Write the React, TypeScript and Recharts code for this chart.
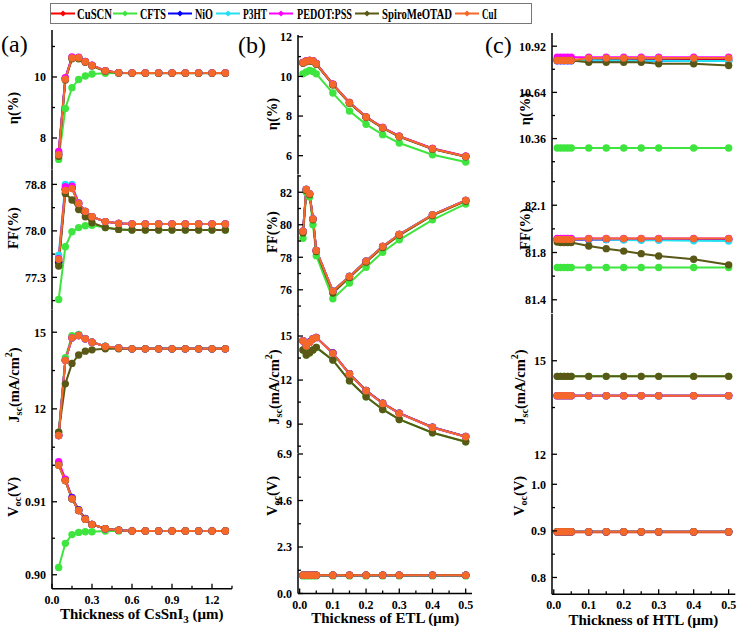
import React from 'react';
import { LineChart, Line, XAxis, YAxis } from 'recharts';

const FONT = '"Liberation Serif", "Times New Roman", serif';

// ---------- x values ----------
const xA = [0.05, 0.1, 0.15, 0.2, 0.25, 0.3, 0.4, 0.5, 0.6, 0.7, 0.8, 0.9, 1.0, 1.1, 1.2, 1.3];
const xB = [0.01, 0.02, 0.03, 0.04, 0.05, 0.1, 0.15, 0.2, 0.25, 0.3, 0.4, 0.5];
const xC = [0.01, 0.02, 0.03, 0.04, 0.05, 0.1, 0.15, 0.2, 0.25, 0.3, 0.4, 0.5];

// ---------- (a) thickness of CsSnI3 ----------
const etaA_CuSCN = [7.48, 9.95, 10.63, 10.63, 10.5, 10.38, 10.2, 10.14, 10.13, 10.13, 10.13, 10.13, 10.13, 10.13, 10.13, 10.13];
const etaA_CFTS = [7.3, 8.97, 9.65, 9.92, 10.03, 10.1, 10.12, 10.13, 10.13, 10.13, 10.13, 10.13, 10.13, 10.13, 10.13, 10.13];
const etaA_NiO = [7.47, 9.94, 10.62, 10.63, 10.5, 10.38, 10.2, 10.14, 10.13, 10.13, 10.13, 10.13, 10.13, 10.13, 10.13, 10.13];
const etaA_P3HT = [7.5, 9.96, 10.64, 10.64, 10.51, 10.38, 10.2, 10.14, 10.13, 10.13, 10.13, 10.13, 10.13, 10.13, 10.13, 10.13];
const etaA_PEDOT = [7.56, 9.98, 10.66, 10.65, 10.51, 10.39, 10.21, 10.14, 10.13, 10.13, 10.13, 10.13, 10.13, 10.13, 10.13, 10.13];
const etaA_Spiro = [7.4, 9.9, 10.6, 10.6, 10.48, 10.36, 10.19, 10.13, 10.12, 10.12, 10.12, 10.12, 10.12, 10.12, 10.12, 10.12];
const etaA_CuI = [7.45, 9.93, 10.62, 10.63, 10.5, 10.38, 10.2, 10.14, 10.13, 10.13, 10.13, 10.13, 10.13, 10.13, 10.13, 10.13];

const ffA_CuSCN = [77.52, 78.72, 78.74, 78.48, 78.35, 78.26, 78.18, 78.15, 78.14, 78.14, 78.14, 78.14, 78.14, 78.14, 78.14, 78.14];
const ffA_CFTS = [76.88, 77.76, 78.01, 78.08, 78.11, 78.12, 78.08, 78.05, 78.04, 78.04, 78.04, 78.04, 78.04, 78.04, 78.04, 78.04];
const ffA_NiO = [77.5, 78.72, 78.74, 78.48, 78.35, 78.26, 78.18, 78.15, 78.14, 78.14, 78.14, 78.14, 78.14, 78.14, 78.14, 78.14];
const ffA_P3HT = [77.62, 78.8, 78.8, 78.49, 78.35, 78.26, 78.18, 78.15, 78.14, 78.14, 78.14, 78.14, 78.14, 78.14, 78.14, 78.14];
const ffA_PEDOT = [77.56, 78.76, 78.77, 78.49, 78.35, 78.26, 78.18, 78.15, 78.14, 78.14, 78.14, 78.14, 78.14, 78.14, 78.14, 78.14];
const ffA_Spiro = [77.44, 78.65, 78.54, 78.38, 78.26, 78.16, 78.08, 78.05, 78.04, 78.04, 78.04, 78.04, 78.04, 78.04, 78.04, 78.04];
const ffA_CuI = [77.55, 78.7, 78.73, 78.48, 78.35, 78.26, 78.18, 78.15, 78.14, 78.14, 78.14, 78.14, 78.14, 78.14, 78.14, 78.14];

const jscA_CuSCN = [10.96, 13.9, 14.78, 14.87, 14.74, 14.61, 14.44, 14.38, 14.35, 14.35, 14.35, 14.35, 14.35, 14.35, 14.35, 14.35];
const jscA_CFTS = [11.09, 14.0, 14.86, 14.91, 14.76, 14.62, 14.45, 14.38, 14.35, 14.35, 14.35, 14.35, 14.35, 14.35, 14.35, 14.35];
const jscA_NiO = [10.96, 13.9, 14.78, 14.87, 14.74, 14.61, 14.44, 14.38, 14.35, 14.35, 14.35, 14.35, 14.35, 14.35, 14.35, 14.35];
const jscA_P3HT = [10.96, 13.9, 14.78, 14.87, 14.74, 14.61, 14.44, 14.38, 14.35, 14.35, 14.35, 14.35, 14.35, 14.35, 14.35, 14.35];
const jscA_PEDOT = [10.96, 13.9, 14.78, 14.87, 14.74, 14.61, 14.44, 14.38, 14.35, 14.35, 14.35, 14.35, 14.35, 14.35, 14.35, 14.35];
const jscA_Spiro = [11.09, 12.98, 13.78, 14.11, 14.26, 14.31, 14.35, 14.35, 14.35, 14.35, 14.35, 14.35, 14.35, 14.35, 14.35, 14.35];
const jscA_CuI = [10.96, 13.9, 14.78, 14.87, 14.74, 14.61, 14.44, 14.38, 14.35, 14.35, 14.35, 14.35, 14.35, 14.35, 14.35, 14.35];

const vocA_CuSCN = [0.9151, 0.9129, 0.9104, 0.9088, 0.9076, 0.9069, 0.9063, 0.9061, 0.906, 0.906, 0.906, 0.906, 0.906, 0.906, 0.906, 0.906];
const vocA_CFTS = [0.901, 0.9043, 0.9055, 0.9058, 0.9059, 0.9059, 0.906, 0.906, 0.906, 0.906, 0.906, 0.906, 0.906, 0.906, 0.906, 0.906];
const vocA_NiO = [0.9152, 0.913, 0.9106, 0.9089, 0.9077, 0.9069, 0.9063, 0.9061, 0.906, 0.906, 0.906, 0.906, 0.906, 0.906, 0.906, 0.906];
const vocA_P3HT = [0.9151, 0.9129, 0.9104, 0.9088, 0.9076, 0.9069, 0.9063, 0.9061, 0.906, 0.906, 0.906, 0.906, 0.906, 0.906, 0.906, 0.906];
const vocA_PEDOT = [0.9155, 0.9131, 0.9105, 0.9088, 0.9076, 0.9069, 0.9063, 0.9061, 0.906, 0.906, 0.906, 0.906, 0.906, 0.906, 0.906, 0.906];
const vocA_Spiro = [0.915, 0.9129, 0.9104, 0.9088, 0.9076, 0.9069, 0.9063, 0.9061, 0.906, 0.906, 0.906, 0.906, 0.906, 0.906, 0.906, 0.906];
const vocA_CuI = [0.915, 0.9129, 0.9104, 0.9088, 0.9076, 0.9069, 0.9063, 0.9061, 0.906, 0.906, 0.906, 0.906, 0.906, 0.906, 0.906, 0.906];

// ---------- (b) thickness of ETL ----------
const etaB_CuSCN = [10.7, 10.78, 10.81, 10.79, 10.65, 9.61, 8.68, 7.96, 7.42, 6.98, 6.36, 5.97];
const etaB_CFTS = [10.13, 10.22, 10.3, 10.25, 10.13, 9.16, 8.25, 7.58, 7.06, 6.64, 6.05, 5.68];
const etaB_NiO = [10.69, 10.77, 10.8, 10.78, 10.64, 9.6, 8.67, 7.95, 7.41, 6.97, 6.35, 5.96];
const etaB_P3HT = [10.69, 10.77, 10.8, 10.78, 10.64, 9.6, 8.67, 7.95, 7.41, 6.97, 6.35, 5.96];
const etaB_PEDOT = [10.7, 10.78, 10.81, 10.79, 10.65, 9.61, 8.68, 7.96, 7.42, 6.98, 6.36, 5.97];
const etaB_Spiro = [10.66, 10.74, 10.77, 10.75, 10.61, 9.57, 8.65, 7.93, 7.39, 6.95, 6.33, 5.94];
const etaB_CuI = [10.69, 10.77, 10.8, 10.78, 10.64, 9.6, 8.67, 7.95, 7.41, 6.97, 6.35, 5.96];

const ffB_CuSCN = [79.6, 82.17, 81.9, 80.36, 78.42, 75.92, 76.82, 77.76, 78.66, 79.4, 80.61, 81.49];
const ffB_CFTS = [79.17, 82.0, 81.7, 80.0, 78.1, 75.45, 76.41, 77.39, 78.31, 79.07, 80.3, 81.28];
const ffB_NiO = [79.6, 82.17, 81.9, 80.36, 78.42, 75.92, 76.82, 77.76, 78.66, 79.4, 80.61, 81.49];
const ffB_P3HT = [79.62, 82.18, 81.91, 80.37, 78.43, 75.93, 76.83, 77.77, 78.67, 79.41, 80.62, 81.5];
const ffB_PEDOT = [79.6, 82.17, 81.9, 80.36, 78.42, 75.92, 76.82, 77.76, 78.66, 79.4, 80.61, 81.49];
const ffB_Spiro = [79.5, 82.1, 81.85, 80.3, 78.35, 75.8, 76.75, 77.7, 78.6, 79.35, 80.57, 81.45];
const ffB_CuI = [79.6, 82.17, 81.9, 80.36, 78.42, 75.92, 76.82, 77.76, 78.66, 79.4, 80.61, 81.49];

const jscB_CuSCN = [14.68, 14.34, 14.59, 14.82, 14.91, 13.84, 12.43, 11.29, 10.43, 9.75, 8.79, 8.16];
const jscB_CFTS = [14.05, 13.7, 13.86, 14.05, 14.23, 13.36, 11.95, 10.86, 10.0, 9.32, 8.41, 7.8];
const jscB_NiO = [14.68, 14.34, 14.59, 14.82, 14.91, 13.84, 12.43, 11.29, 10.43, 9.75, 8.79, 8.16];
const jscB_P3HT = [14.66, 14.32, 14.57, 14.8, 14.89, 13.82, 12.41, 11.27, 10.41, 9.73, 8.77, 8.14];
const jscB_PEDOT = [14.66, 14.32, 14.57, 14.8, 14.89, 13.82, 12.41, 11.27, 10.41, 9.73, 8.77, 8.14];
const jscB_Spiro = [14.05, 13.7, 13.86, 14.05, 14.23, 13.36, 11.95, 10.86, 10.0, 9.32, 8.41, 7.8];
const jscB_CuI = [14.66, 14.32, 14.57, 14.8, 14.89, 13.82, 12.41, 11.27, 10.41, 9.73, 8.77, 8.14];

const vocB_CuSCN = [0.9, 0.9, 0.9, 0.9, 0.9, 0.9, 0.9, 0.9, 0.9, 0.9, 0.9, 0.9];
const vocB_CFTS = [0.87, 0.87, 0.87, 0.87, 0.87, 0.87, 0.87, 0.87, 0.87, 0.87, 0.87, 0.87];
const vocB_NiO = [0.9, 0.9, 0.9, 0.9, 0.9, 0.9, 0.9, 0.9, 0.9, 0.9, 0.9, 0.9];
const vocB_P3HT = [0.9, 0.9, 0.9, 0.9, 0.9, 0.9, 0.9, 0.9, 0.9, 0.9, 0.9, 0.9];
const vocB_PEDOT = [0.9, 0.9, 0.9, 0.9, 0.9, 0.9, 0.9, 0.9, 0.9, 0.9, 0.9, 0.9];
const vocB_Spiro = [0.9, 0.9, 0.9, 0.9, 0.9, 0.9, 0.9, 0.9, 0.9, 0.9, 0.9, 0.9];
const vocB_CuI = [0.9, 0.9, 0.9, 0.9, 0.9, 0.9, 0.9, 0.9, 0.9, 0.9, 0.9, 0.9];

// ---------- (c) thickness of HTL ----------
const etaC_CuSCN = [10.838, 10.838, 10.838, 10.838, 10.838, 10.838, 10.838, 10.838, 10.838, 10.838, 10.838, 10.838];
const etaC_CFTS = [10.303, 10.303, 10.303, 10.303, 10.303, 10.303, 10.303, 10.303, 10.303, 10.303, 10.303, 10.303];
const etaC_NiO = [10.832, 10.832, 10.832, 10.832, 10.832, 10.832, 10.832, 10.832, 10.832, 10.832, 10.832, 10.832];
const etaC_P3HT = [10.836, 10.836, 10.836, 10.836, 10.836, 10.835, 10.834, 10.833, 10.832, 10.832, 10.831, 10.83];
const etaC_PEDOT = [10.853, 10.853, 10.853, 10.853, 10.853, 10.853, 10.853, 10.853, 10.853, 10.853, 10.853, 10.853];
const etaC_Spiro = [10.834, 10.834, 10.834, 10.834, 10.834, 10.823, 10.823, 10.823, 10.823, 10.814, 10.814, 10.803];
const etaC_CuI = [10.834, 10.834, 10.834, 10.834, 10.834, 10.848, 10.848, 10.848, 10.848, 10.848, 10.848, 10.848];

const ffC_CuSCN = [81.862, 81.862, 81.862, 81.862, 81.862, 81.862, 81.862, 81.862, 81.862, 81.862, 81.862, 81.862];
const ffC_CFTS = [81.665, 81.665, 81.665, 81.665, 81.665, 81.665, 81.665, 81.665, 81.665, 81.665, 81.665, 81.665];
const ffC_NiO = [81.86, 81.86, 81.86, 81.86, 81.86, 81.86, 81.86, 81.86, 81.86, 81.86, 81.86, 81.86];
const ffC_P3HT = [81.866, 81.866, 81.866, 81.866, 81.866, 81.862, 81.86, 81.858, 81.856, 81.855, 81.852, 81.85];
const ffC_PEDOT = [81.868, 81.868, 81.868, 81.868, 81.868, 81.868, 81.868, 81.868, 81.868, 81.868, 81.868, 81.868];
const ffC_Spiro = [81.843, 81.84, 81.84, 81.84, 81.84, 81.815, 81.797, 81.78, 81.762, 81.746, 81.723, 81.684];
const ffC_CuI = [81.862, 81.862, 81.862, 81.862, 81.862, 81.867, 81.867, 81.867, 81.867, 81.867, 81.867, 81.867];

const jscC_CuSCN = [13.88, 13.88, 13.88, 13.88, 13.88, 13.88, 13.88, 13.88, 13.88, 13.88, 13.88, 13.88];
const jscC_CFTS = [14.5, 14.5, 14.5, 14.5, 14.5, 14.5, 14.5, 14.5, 14.5, 14.5, 14.5, 14.5];
const jscC_NiO = [13.88, 13.88, 13.88, 13.88, 13.88, 13.88, 13.88, 13.88, 13.88, 13.88, 13.88, 13.88];
const jscC_P3HT = [13.88, 13.88, 13.88, 13.88, 13.88, 13.88, 13.88, 13.88, 13.88, 13.88, 13.88, 13.88];
const jscC_PEDOT = [13.88, 13.88, 13.88, 13.88, 13.88, 13.88, 13.88, 13.88, 13.88, 13.88, 13.88, 13.88];
const jscC_Spiro = [14.5, 14.5, 14.5, 14.5, 14.5, 14.5, 14.5, 14.5, 14.5, 14.5, 14.5, 14.5];
const jscC_CuI = [13.88, 13.88, 13.88, 13.88, 13.88, 13.88, 13.88, 13.88, 13.88, 13.88, 13.88, 13.88];

const vocC_CuSCN = [0.897, 0.897, 0.897, 0.897, 0.897, 0.897, 0.897, 0.897, 0.897, 0.897, 0.897, 0.897];
const vocC_CFTS = [0.898, 0.898, 0.898, 0.898, 0.898, 0.898, 0.898, 0.898, 0.898, 0.898, 0.898, 0.898];
const vocC_NiO = [0.898, 0.898, 0.898, 0.898, 0.898, 0.898, 0.898, 0.898, 0.898, 0.898, 0.898, 0.898];
const vocC_P3HT = [0.898, 0.898, 0.898, 0.898, 0.898, 0.898, 0.898, 0.898, 0.898, 0.898, 0.898, 0.898];
const vocC_PEDOT = [0.898, 0.898, 0.898, 0.898, 0.898, 0.898, 0.898, 0.898, 0.898, 0.898, 0.898, 0.898];
const vocC_Spiro = [0.898, 0.898, 0.898, 0.898, 0.898, 0.898, 0.898, 0.898, 0.898, 0.898, 0.898, 0.898];
const vocC_CuI = [0.898, 0.898, 0.898, 0.898, 0.898, 0.898, 0.898, 0.898, 0.898, 0.898, 0.898, 0.898];

// ---------- tick labels ----------
const xTicksA = [0, 0.3, 0.6, 0.9, 1.2];
const xMinorA = [0.15, 0.45, 0.75, 1.05, 1.35];
const xTicksBC = [0, 0.1, 0.2, 0.3, 0.4, 0.5];
const xMinorBC = [0.05, 0.15, 0.25, 0.35, 0.45];

const SERIES = [
  { key: 'CuSCN', name: 'CuSCN', color: '#FF0000' },
  { key: 'CFTS', name: 'CFTS', color: '#3EE53E' },
  { key: 'NiO', name: 'NiO', color: '#0000FF' },
  { key: 'P3HT', name: 'P3HT', color: '#22E0F0' },
  { key: 'PEDOT', name: 'PEDOT:PSS', color: '#FF00FF' },
  { key: 'Spiro', name: 'SpiroMeOTAD', color: '#5A5816' },
  { key: 'CuI', name: 'CuI', color: '#F4682A' },
];

function rows(xs: number[], cols: number[][]) {
  return xs.map((x, i) => {
    const r: any = { x };
    SERIES.forEach((s, k) => { r[s.key] = cols[k][i]; });
    return r;
  });
}

const f1 = (v: number) => v.toFixed(1);
const f0 = (v: number) => v.toFixed(0);
const f2 = (v: number) => v.toFixed(2);

const COLS = [
  { left: 51.7, w: 180, top: 30, h: 139.75, xDomain: [0, 1.35], xMajor: xTicksA, xMinor: xMinorA },
  { left: 298.3, w: 174, top: 35, h: 139.5, xDomain: [-0.005, 0.519], xMajor: xTicksBC, xMinor: xMinorBC },
  { left: 551.7, w: 183.3, top: 33, h: 140.25, xDomain: [-0.005, 0.519], xMajor: xTicksBC, xMinor: xMinorBC },
];

const PANELS: any[] = [
  // column a
  { col: 0, row: 0, data: rows(xA, [etaA_CuSCN, etaA_CFTS, etaA_NiO, etaA_P3HT, etaA_PEDOT, etaA_Spiro, etaA_CuI]), yDomain: [6.96, 11.54], yMajor: [8, 10], yMinor: [9, 11], fmt: f0 },
  { col: 0, row: 1, data: rows(xA, [ffA_CuSCN, ffA_CFTS, ffA_NiO, ffA_P3HT, ffA_PEDOT, ffA_Spiro, ffA_CuI]), yDomain: [76.71, 79.04], yMajor: [77.25, 78.025, 78.8], yMinor: [76.8625, 77.6375, 78.4125], fmt: f1 },
  { col: 0, row: 2, data: rows(xA, [jscA_CuSCN, jscA_CFTS, jscA_NiO, jscA_P3HT, jscA_PEDOT, jscA_Spiro, jscA_CuI]), yDomain: [10.4, 15.87], yMajor: [12, 15], yMinor: [10.5, 13.5], fmt: f0 },
  { col: 0, row: 3, data: rows(xA, [vocA_CuSCN, vocA_CFTS, vocA_NiO, vocA_P3HT, vocA_PEDOT, vocA_Spiro, vocA_CuI]), yDomain: [0.89808, 0.91723], yMajor: [0.9, 0.91], yMinor: [0.905, 0.915], fmt: f2 },
  // column b
  { col: 1, row: 0, data: rows(xB, [etaB_CuSCN, etaB_CFTS, etaB_NiO, etaB_P3HT, etaB_PEDOT, etaB_Spiro, etaB_CuI]), yDomain: [5.05, 12.09], yMajor: [6, 8, 10, 12], yMinor: [7, 9, 11], fmt: f0 },
  { col: 1, row: 1, data: rows(xB, [ffB_CuSCN, ffB_CFTS, ffB_NiO, ffB_P3HT, ffB_PEDOT, ffB_Spiro, ffB_CuI]), yDomain: [74.48, 83.06], yMajor: [76, 78, 80, 82], yMinor: [75, 77, 79, 81, 83], fmt: f0 },
  { col: 1, row: 2, data: rows(xB, [jscB_CuSCN, jscB_CFTS, jscB_NiO, jscB_P3HT, jscB_PEDOT, jscB_Spiro, jscB_CuI]), yDomain: [7, 16.5], yMajor: [9, 12, 15], yMinor: [7.5, 10.5, 13.5], fmt: f0 },
  { col: 1, row: 3, data: rows(xB, [vocB_CuSCN, vocB_CFTS, vocB_NiO, vocB_P3HT, vocB_PEDOT, vocB_Spiro, vocB_CuI]), yDomain: [0, 6.9], yMajor: [0, 2.3, 4.6, 6.9], yMinor: [1.15, 3.45, 5.75], fmt: f1 },
  // column c
  { col: 2, row: 0, data: rows(xC, [etaC_CuSCN, etaC_CFTS, etaC_NiO, etaC_P3HT, etaC_PEDOT, etaC_Spiro, etaC_CuI]), yDomain: [10.15, 11.0], yMajor: [10.36, 10.64, 10.92], yMinor: [10.22, 10.5, 10.78], fmt: f2 },
  { col: 2, row: 1, data: rows(xC, [ffC_CuSCN, ffC_CFTS, ffC_NiO, ffC_P3HT, ffC_PEDOT, ffC_Spiro, ffC_CuI]), yDomain: [81.346, 82.325], yMajor: [81.44, 81.77, 82.1], yMinor: [81.605, 81.935, 82.265], fmt: f1 },
  { col: 2, row: 2, data: rows(xC, [jscC_CuSCN, jscC_CFTS, jscC_NiO, jscC_P3HT, jscC_PEDOT, jscC_Spiro, jscC_CuI]), yDomain: [12, 16.5], yMajor: [12, 15], yMinor: [13.5], fmt: f0 },
  { col: 2, row: 3, data: rows(xC, [vocC_CuSCN, vocC_CFTS, vocC_NiO, vocC_P3HT, vocC_PEDOT, vocC_Spiro, vocC_CuI]), yDomain: [0.764, 1.065], yMajor: [0.8, 0.9, 1.0], yMinor: [0.85, 0.95], fmt: f1 },
];

const tickText: any = { fontFamily: FONT, fontWeight: 700, fontSize: 12, fill: '#000' };
const isIn = (arr: number[], v: number) => arr.some((m) => Math.abs(m - v) < 1e-9);

function Panel({ p }: { p: any }) {
  const c = COLS[p.col];
  const YW = 60, MT = 10, MR = 3, MB = 10;
  const showX = p.row === 3;
  const XH = showX ? 30 : 0;
  const top = c.top + p.row * c.h;
  const xTicks = [...c.xMajor, ...c.xMinor].filter((v) => v >= c.xDomain[0] && v <= c.xDomain[1]).sort((a, b) => a - b);
  const yTicks = [...p.yMajor, ...p.yMinor].filter((v: number) => v >= p.yDomain[0] && v <= p.yDomain[1]).sort((a: number, b: number) => a - b);
  const TM = 5;

  const leftTick = (t: any) => {
    const v = t.payload.value;
    const maj = isIn(p.yMajor, v);
    const ax = t.x + TM;
    return (
      <g>
        <line x1={ax} x2={ax + (maj ? 5 : 3)} y1={t.y} y2={t.y} stroke="#000" strokeWidth={1.3} />
        {maj && <text x={t.x - 1} y={t.y} dy="0.36em" textAnchor="end" style={tickText}>{p.fmt(v)}</text>}
      </g>
    );
  };
  const rightTick = (t: any) => {
    const v = t.payload.value;
    const maj = isIn(p.yMajor, v);
    return <line x1={t.x} x2={t.x - (maj ? 5 : 3)} y1={t.y} y2={t.y} stroke="#000" strokeWidth={1.3} />;
  };
  const bottomTick = (t: any) => {
    const v = t.payload.value;
    const maj = isIn(c.xMajor, v);
    return (
      <g>
        <line x1={t.x} x2={t.x} y1={t.y} y2={t.y - (maj ? 5 : 3)} stroke="#000" strokeWidth={1.3} />
        {maj && showX && <text x={t.x} y={t.y + 15} textAnchor="middle" style={tickText}>{v.toFixed(1)}</text>}
      </g>
    );
  };
  const topTick = (t: any) => {
    const v = t.payload.value;
    const maj = isIn(c.xMajor, v);
    return <line x1={t.x} x2={t.x} y1={t.y} y2={t.y + (maj ? 5 : 3)} stroke="#000" strokeWidth={1.3} />;
  };

  return (
    <div style={{ position: 'absolute', left: c.left - YW, top: top - MT }}>
      <LineChart width={YW + c.w + MR} height={MT + c.h + XH + MB} data={p.data} margin={{ top: MT, right: MR, left: 0, bottom: MB }}>
        <XAxis dataKey="x" type="number" domain={c.xDomain} ticks={xTicks} interval={0} allowDataOverflow
          height={XH} tickSize={0} tickMargin={0} tickLine={false} axisLine={{ stroke: '#000', strokeWidth: 1.5 }} tick={bottomTick} />
        <XAxis xAxisId="t" orientation="top" dataKey="x" type="number" domain={c.xDomain} ticks={xTicks} interval={0} allowDataOverflow
          height={0} tickSize={0} tickMargin={0} tickLine={false} axisLine={{ stroke: '#000', strokeWidth: 1.5 }} tick={topTick} />
        <YAxis type="number" domain={p.yDomain} ticks={yTicks} interval={0} allowDataOverflow width={YW}
          tickSize={0} tickMargin={TM} tickLine={false} axisLine={{ stroke: '#000', strokeWidth: 1.5 }} tick={leftTick} />
        <YAxis yAxisId="r" orientation="right" type="number" domain={p.yDomain} ticks={yTicks} interval={0} allowDataOverflow width={0}
          tickSize={0} tickMargin={0} tickLine={false} axisLine={{ stroke: '#000', strokeWidth: 1.5 }} tick={rightTick} />
        {SERIES.map((s) => (
          <Line key={s.key} dataKey={s.key} type="linear" stroke={s.color} strokeWidth={2}
            dot={{ r: 3.7, fill: s.color, stroke: s.color, strokeWidth: 0 }} activeDot={false}
            isAnimationActive={false} />
        ))}
      </LineChart>
    </div>
  );
}

// y-title positions [x, y-centre] per column and row
const YLABEL_POS = [
  [[13, 108], [13, 228], [14, 385], [13, 497]],
  [[272, 114], [272, 232], [274, 387], [272, 496]],
  [[525, 109], [525, 229], [520, 387], [519, 496]],
];

function YLabel({ kind, x, y }: { kind: number; x: number; y: number }) {
  const st: any = { fontFamily: FONT, fontWeight: 700, fontSize: 14.5, fill: '#000' };
  const tr = `rotate(-90 ${x} ${y})`;
  if (kind === 0) return <text x={x} y={y} transform={tr} textAnchor="middle" dominantBaseline="central" style={st}>η(%)</text>;
  if (kind === 1) return <text x={x} y={y} transform={tr} textAnchor="middle" dominantBaseline="central" style={st}>FF(%)</text>;
  if (kind === 2)
    return (
      <text x={x} y={y} transform={tr} textAnchor="middle" dominantBaseline="central" style={st}>
        J<tspan dy={4} fontSize={10}>sc</tspan><tspan dy={-4}>(mA/cm</tspan><tspan dy={-6} fontSize={10}>2</tspan><tspan dy={6}>)</tspan>
      </text>
    );
  return (
    <text x={x} y={y} transform={tr} textAnchor="middle" dominantBaseline="central" style={st}>
      V<tspan dy={4} fontSize={10}>oc</tspan><tspan dy={-4}>(V)</tspan>
    </text>
  );
}

const LEGEND_POS = [
  { lx: 51, tx: 77, tw: 35 },
  { lx: 113, tx: 140, tw: 26 },
  { lx: 168, tx: 195, tw: 18 },
  { lx: 216, tx: 243, tw: 24 },
  { lx: 269, tx: 297, tw: 55 },
  { lx: 355, tx: 382, tw: 70 },
  { lx: 455, tx: 482, tw: 15 },
];

export default function App() {
  const titleSt: any = { fontFamily: FONT, fontWeight: 700, fontSize: 15, fill: '#000' };
  return (
    <div style={{ position: 'absolute', left: 0, top: 0, width: 738, height: 631, background: '#fff', overflow: 'hidden' }}>
      {PANELS.map((p, i) => <Panel key={i} p={p} />)}
      <svg width={738} height={631} style={{ position: 'absolute', left: 0, top: 0, pointerEvents: 'none' }}>
        {/* legend */}
        <rect x={50.5} y={3.5} width={481} height={20} fill="#fff" stroke="#777" strokeWidth={1} />
        {SERIES.map((s, i) => {
          const L = LEGEND_POS[i];
          const cx = L.lx + 12;
          return (
            <g key={s.key}>
              <line x1={L.lx} x2={L.lx + 24} y1={13.5} y2={13.5} stroke={s.color} strokeWidth={2} />
              <path d={`M${cx} ${10.5} L${cx + 3} ${13.5} L${cx} ${16.5} L${cx - 3} ${13.5} Z`} fill={s.color} />
              <text x={L.tx} y={18.5} textLength={L.tw} lengthAdjust="spacingAndGlyphs"
                style={{ fontFamily: FONT, fontWeight: 700, fontSize: 15, fill: '#000' }}>{s.name}</text>
            </g>
          );
        })}
        {/* panel letters */}
        <text x={1} y={52} style={{ fontFamily: FONT, fontSize: 24, fill: '#000' }}>(a)</text>
        <text x={238} y={53} style={{ fontFamily: FONT, fontSize: 24, fill: '#000' }}>(b)</text>
        <text x={485} y={53} style={{ fontFamily: FONT, fontSize: 24, fill: '#000' }}>(c)</text>
        {/* y labels */}
        {YLABEL_POS.map((col, ci) => col.map((pos, r) => (
          <YLabel key={`${ci}-${r}`} kind={r} x={pos[0]} y={pos[1]} />
        )))}
        {/* x titles */}
        <text x={141.7} y={619} textAnchor="middle" style={titleSt}>
          Thickness of CsSnI<tspan dy={4} fontSize={11}>3</tspan><tspan dy={-4}> (μm)</tspan>
        </text>
        <text x={385.3} y={623} textAnchor="middle" style={titleSt}>Thickness of ETL (μm)</text>
        <text x={643.3} y={625} textAnchor="middle" style={titleSt}>Thickness of HTL (μm)</text>
      </svg>
    </div>
  );
}
